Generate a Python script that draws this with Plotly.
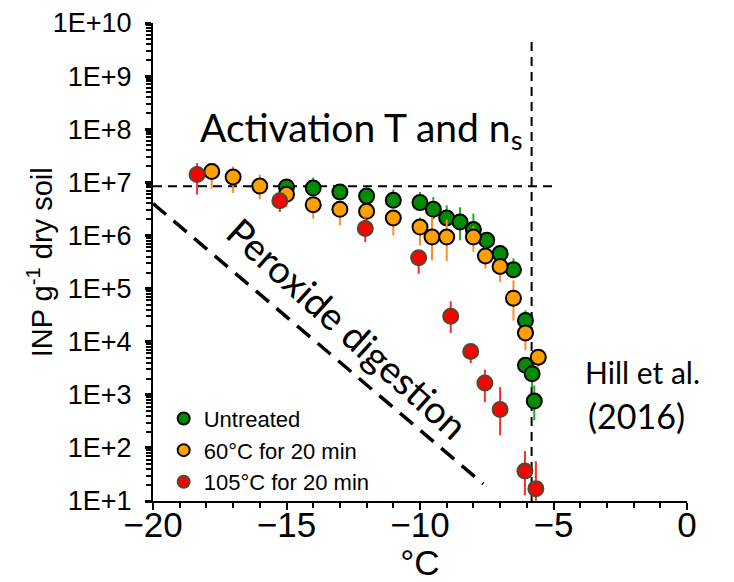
import plotly.graph_objects as go

# ---- data ----
green_x = [-15.0, -14.0, -13.0, -12.0, -11.0, -10.0, -9.5, -9.0, -8.5, -8.0, -7.5, -7.0, -6.5, -6.05, -6.05, -5.8, -5.72]
green_y = [8.2e6, 7.8e6, 6.6e6, 5.5e6, 4.6e6, 4.15e6, 3.1e6, 2.13e6, 1.79e6, 1.29e6, 8.1e5, 4.55e5, 2.27e5, 2.5e4, 3.6e3, 2.5e3, 7.6e2]
green_hi = [1.0e7, 1.23e7, 8.0e6, 6.5e6, 7.3e6, 6.6e6, 5.3e6, 3.7e6, 3.4e6, 2.58e6, 1.0e6, 6.05e5, 3.7e5, 3.9e4, 4.5e3, 3.2e3, 1.5e3]
green_lo = [6.5e6, 6.3e6, 5.5e6, 4.5e6, 3.5e6, 3.0e6, 2.0e6, 1.5e6, 8.1e5, 9.3e5, 6.5e5, 3.5e5, 1.8e5, 1.8e4, 2.8e3, 1.4e3, 3.3e2]

orange_x = [-17.8, -17.0, -16.0, -15.0, -14.0, -13.0, -12.0, -11.0, -10.0, -9.55, -9.0, -8.0, -7.55, -7.0, -6.5, -6.05, -5.57]
orange_y = [1.6e7, 1.26e7, 8.5e6, 5.95e6, 3.8e6, 3.1e6, 2.85e6, 2.13e6, 1.44e6, 9.35e5, 9.35e5, 9.35e5, 4.1e5, 2.6e5, 6.6e4, 1.46e4, 5.1e3]
orange_hi = [1.8e7, 2.0e7, 1.4e7, 7.5e6, 4.5e6, 3.6e6, 3.3e6, 2.5e6, 2.2e6, 2.2e6, 2.0e6, 1.5e6, 6.0e5, 3.5e5, 1.43e5, 2.0e4, 7.0e3]
orange_lo = [7.6e6, 6.3e6, 4.8e6, 3.4e6, 2.07e6, 1.55e6, 1.6e6, 1.0e6, 6.5e5, 3.4e5, 3.3e5, 4.9e5, 2.4e5, 1.33e5, 2.5e4, 6.9e3, 3.3e3]

red_x = [-18.35, -15.25, -12.05, -10.05, -8.85, -8.1, -7.57, -7.0, -6.07, -5.66]
red_y = [1.4e7, 4.5e6, 1.35e6, 3.8e5, 3.0e4, 6.5e3, 1.67e3, 5.26e2, 36.7, 17.1]
red_hi = [2.3e7, 6.5e6, 2.2e6, 5.3e5, 5.75e4, 9.0e3, 2.98e3, 1.4e3, 87, 56]
red_lo = [5.9e6, 2.76e6, 7.5e5, 1.9e5, 1.46e4, 3.96e3, 7.31e2, 1.73e2, 12.8, 10.2]

series_names = ["Untreated", "60°C for 20 min", "105°C for 20 min"]

# reference lines
act_line_x = [-20, -4.95]
act_line_y = [8.4e6, 8.4e6]
hill_line_x = [-5.82, -5.82]
hill_line_y = [10, 5e9]
perox_line_x = [-20, -7.63]
perox_line_y = [4.0e6, 21]

y_tickvals = [1e1, 1e2, 1e3, 1e4, 1e5, 1e6, 1e7, 1e8, 1e9, 1e10]
y_ticktext = ["1E+1", "1E+2", "1E+3", "1E+4", "1E+5", "1E+6", "1E+7", "1E+8", "1E+9", "1E+10"]
x_tickvals = [-20, -15, -10, -5, 0]

fig = go.Figure()

# reference lines
fig.add_trace(go.Scatter(x=act_line_x, y=act_line_y, mode="lines", showlegend=False, hoverinfo="skip",
                         line=dict(color="black", width=2, dash="9px,6px")))
fig.add_trace(go.Scatter(x=hill_line_x, y=hill_line_y, mode="lines", showlegend=False, hoverinfo="skip",
                         line=dict(color="black", width=2, dash="9px,6px")))
fig.add_trace(go.Scatter(x=perox_line_x, y=perox_line_y, mode="lines", showlegend=False, hoverinfo="skip",
                         line=dict(color="black", width=3.5, dash="17px,10px")))


def add_series(xs, ys, hi, lo, name, fill, edge, barcolor):
    fig.add_trace(go.Scatter(
        x=xs, y=ys, mode="markers", name=name,
        marker=dict(size=15, color=fill, line=dict(color=edge, width=2)),
        error_y=dict(type="data", symmetric=False,
                     array=[h - v for h, v in zip(hi, ys)],
                     arrayminus=[v - l for v, l in zip(ys, lo)],
                     color=barcolor, thickness=2, width=0),
    ))


add_series(green_x, green_y, green_hi, green_lo, series_names[0], "#008C00", "black", "#22AA22")
add_series(orange_x, orange_y, orange_hi, orange_lo, series_names[1], "#FFA000", "black", "#FF8C28")
add_series(red_x, red_y, red_hi, red_lo, series_names[2], "#FF0000", "#4F4A30", "#FF2A2A")

lato = "Lato, Open Sans, sans-serif"
base = "Liberation Sans, Arial, sans-serif"

fig.add_annotation(x=-18.3, y=7.98, xref="x", yref="y", text="Activation T and n<sub>s</sub>",
                   showarrow=False, xanchor="left", yanchor="middle",
                   font=dict(family=lato, size=39, color="black"))
fig.add_annotation(x=-12.7, y=4.25, xref="x", yref="y", text="Peroxide digestion",
                   showarrow=False, textangle=42, font=dict(family=lato, size=38, color="black"))
fig.add_annotation(x=-3.9, y=3.42, xref="x", yref="y", text="Hill et al.",
                   showarrow=False, xanchor="left", yanchor="middle",
                   font=dict(family=lato, size=30, color="black"))
fig.add_annotation(x=-3.8, y=2.61, xref="x", yref="y", text="(2016)",
                   showarrow=False, xanchor="left", yanchor="middle",
                   font=dict(family=lato, size=34, color="black"))
# y-axis title
fig.add_annotation(x=-0.211, y=0.5, xref="paper", yref="paper", text="INP g<sup>-1</sup> dry soil",
                   showarrow=False, textangle=-90, xanchor="center", yanchor="middle",
                   font=dict(family=base, size=29, color="black"))

ytick_font = dict(family=base, size=27, color="black")
xtick_font = dict(family=base, size=35, color="black")

# the page body has an 8px default margin, so the figure is 8px smaller than the window
fig.update_layout(
    template="none",
    width=726, height=574, autosize=False,
    margin=dict(l=145, r=47, t=15, b=81, pad=0),
    paper_bgcolor="white", plot_bgcolor="white",
    font=dict(family=base, size=20, color="black"),
    showlegend=True,
    legend=dict(x=0.02, y=0.216, xanchor="left", yanchor="top",
                font=dict(family=base, size=22, color="black"),
                bgcolor="rgba(0,0,0,0)", borderwidth=0, itemsizing="constant", tracegroupgap=0),
    xaxis=dict(range=[-20, 0], tickvals=x_tickvals, showgrid=False, zeroline=False, automargin=False,
               showline=True, linecolor="black", linewidth=2,
               ticks="outside", ticklen=7, tickwidth=2, tickcolor="black",
               minor=dict(dtick=1, ticks="outside", ticklen=5, tickwidth=1.5, tickcolor="black", showgrid=False),
               ticklabelstandoff=-15,
               title=dict(text="°C", font=xtick_font, standoff=8),
               tickfont=xtick_font),
    yaxis=dict(type="log", range=[1, 10], tickvals=y_tickvals, ticktext=y_ticktext,
               showgrid=False, zeroline=False, automargin=False,
               showline=True, linecolor="black", linewidth=2,
               ticks="outside", ticklen=6, tickwidth=2.5, tickcolor="black",
               minor=dict(ticks="outside", ticklen=5, tickwidth=1.5, tickcolor="black", dtick="D1", showgrid=False),
               ticklabelstandoff=8,
               tickfont=ytick_font),
)

fig.write_html("out.html")
